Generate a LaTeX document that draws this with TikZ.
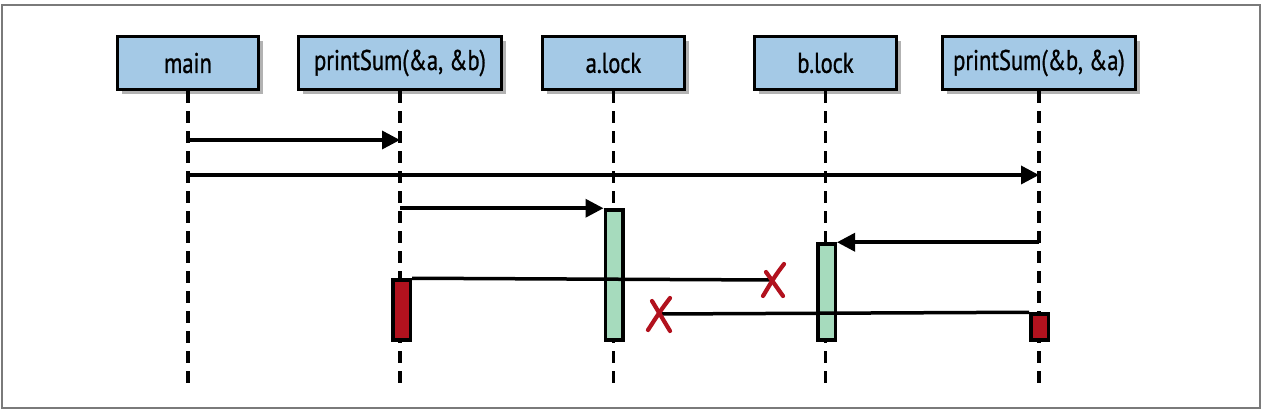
\documentclass[tikz,border=0pt]{standalone}
\usepackage{fontspec}
\setmainfont[FakeStretch=0.79,FakeBold=0.9]{PT Sans}
\usetikzlibrary{arrows.meta,shadows,calc}
\definecolor{hdrblue}{HTML}{A4C9E6}
\definecolor{actgreen}{HTML}{A6DBBD}
\definecolor{actred}{HTML}{B2121E}
\definecolor{framegray}{HTML}{7A7A7A}
\begin{document}
\begin{tikzpicture}[x=1pt,y=-1pt,
  hdr/.style={draw=black, line width=3.5pt, fill=hdrblue, minimum height=53pt,
    inner sep=0pt, font=\fontsize{28.5}{32}\selectfont,
    drop shadow={shadow xshift=4pt, shadow yshift=-5pt, fill=black, opacity=0.3}},
  life/.style={line width=3.5pt, dash pattern=on 12pt off 8pt},
  act/.style={draw=black, line width=3.5pt, minimum width=17.5pt, inner sep=0pt},
  msg/.style={line width=3.5pt, -{Triangle[length=18pt,width=18pt]}},
  plain/.style={line width=3.5pt},
  xstroke/.style={draw=actred, line width=4.2pt, line cap=round}
]
\useasboundingbox (0,0) rectangle (1264,414);
\draw[framegray, line width=2pt] (2,5) rectangle (1260,408);

% headers
\node[hdr, minimum width=141pt] (main) at (188,63) {main};
\node[hdr, minimum width=203pt] (ps1) at (400,63) {printSum(\&a, \&b)};
\node[hdr, minimum width=142pt] (alock) at (613.5,63) {a.lock};
\node[hdr, minimum width=142pt] (block) at (825.5,63) {b.lock};
\node[hdr, minimum width=193pt] (ps2) at (1039,63) {printSum(\&b, \&a)};

% lifelines
\coordinate (bot) at (0,388);
\foreach \n in {main,ps1,alock,block,ps2}
  \draw[life] (\n.south) -- (\n.south |- bot);

% activation boxes
\node[act, fill=actgreen, minimum height=130pt] (actA) at (614,275) {};
\node[act, fill=actgreen, minimum height=96pt] (actB) at (826.5,292) {};
\node[act, fill=actred, minimum height=60pt] (redP) at (401.5,310) {};
\node[act, fill=actred, minimum height=26pt] (redQ) at (1039.5,327) {};

% messages
\coordinate (m1s) at (main.south |- 0,140);
\coordinate (m1e) at (ps1.south |- 0,140);
\draw[msg] (m1s) -- (m1e);
\coordinate (m2s) at (main.south |- 0,175);
\coordinate (m2e) at (ps2.south |- 0,175);
\draw[msg] (m2s) -- (m2e);
\coordinate (m3s) at (ps1.south |- actA.north);
\draw[msg] (m3s) -- (actA.north west);
\coordinate (m4s) at (ps2.south |- actB.north);
\draw[msg] (m4s) -- (actB.north east);

% blocked requests
\coordinate (x1) at (773,280);
\coordinate (x2) at (660,314);
\draw[plain] (redP.north east) -- (x1);
\draw[plain] (redQ.north west) -- (x2);
\draw[xstroke] ($(x1)+(11,-16)$) .. controls ($(x1)+(2,-4)$) .. ($(x1)+(-10,16)$);
\draw[xstroke] ($(x1)+(-7,-8)$) -- ($(x1)+(10,16)$);
\draw[xstroke] ($(x2)+(10,-16)$) .. controls ($(x2)+(1,-4)$) .. ($(x2)+(-12,16)$);
\draw[xstroke] ($(x2)+(-8,-13)$) -- ($(x2)+(10,17)$);
\end{tikzpicture}
\end{document}
